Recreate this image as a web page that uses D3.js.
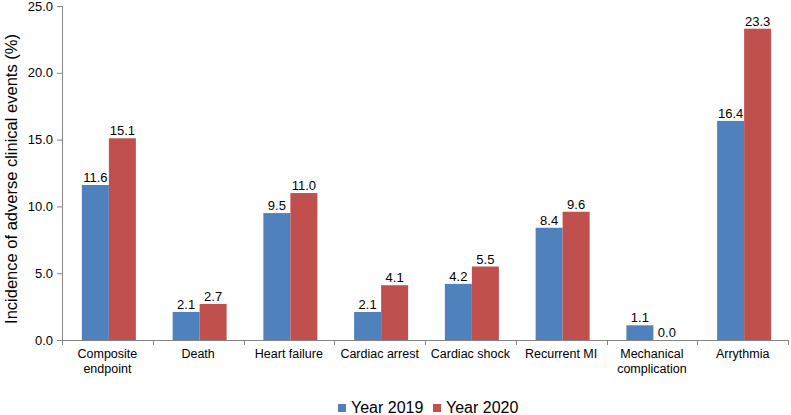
<!DOCTYPE html>
<html><head><meta charset="utf-8">
<script src="https://cdn.jsdelivr.net/npm/d3@7"></script>
<style>body{margin:0;background:#fff}svg{display:block}text{font-family:"Liberation Sans",Arial,sans-serif;fill:#000}</style>
</head><body>
<script>
const categories = [["Composite","endpoint"],["Death"],["Heart failure"],["Cardiac arrest"],["Cardiac shock"],["Recurrent MI"],["Mechanical","complication"],["Arrythmia"]];
const series = ["Year 2019","Year 2020"];
const values2019 = [11.6,2.1,9.5,2.1,4.2,8.4,1.1,16.4];
const values2020 = [15.1,2.7,11.0,4.1,5.5,9.6,0.0,23.3];
const yTicks = [0,5,10,15,20,25];
const colors = ["#4F81BD","#C0504D"];

const W=791,H=415;
const svg=d3.select("body").append("svg").attr("width",W).attr("height",H);
const L=62,R=788,T=6,B=340;
const x=d3.scaleBand().domain(d3.range(categories.length)).range([L,R]).paddingInner(0).paddingOuter(0);
const y=d3.scaleLinear().domain([0,25]).range([B,T]);
const barW = 27;
const axisColor="#868686";

// y axis
const ya=svg.append("g").attr("transform",`translate(${L},0)`)
  .call(d3.axisLeft(y).tickValues(yTicks).tickFormat(d3.format(".1f")).tickSize(5).tickPadding(4));
ya.select(".domain").attr("stroke",axisColor);
ya.selectAll(".tick line").attr("stroke",axisColor);
ya.selectAll("text").style("font-size","13px").attr("fill","#000");

// x axis
const xa=svg.append("g");
xa.append("line").attr("x1",L).attr("x2",R).attr("y1",B+0.5).attr("y2",B+0.5).attr("stroke",axisColor);
const bounds=d3.range(categories.length+1).map(i=> i<categories.length? x(i): x(categories.length-1)+x.bandwidth());
xa.selectAll(".xt").data(bounds).join("line").attr("x1",d=>Math.round(d)+0.5).attr("x2",d=>Math.round(d)+0.5)
  .attr("y1",B).attr("y2",B+5).attr("stroke",axisColor);

const sx=d3.scaleBand().domain(series).range([0,barW*2]);
const data=[values2019,values2020];
categories.forEach((c,i)=>{
  const cx=x(i)+x.bandwidth()/2+1.5;
  const g=svg.append("g").attr("transform",`translate(${cx-barW},0)`);
  series.forEach((s,j)=>{
    const v=data[j][i];
    g.append("rect").attr("x",sx(s)).attr("width",sx.bandwidth()).attr("y",y(v)).attr("height",B-y(v)).attr("fill",colors[j]);
    g.append("text").attr("x",sx(s)+sx.bandwidth()/2).attr("y",y(v)-3).attr("text-anchor","middle")
      .style("font-size","13px").text(d3.format(".1f")(v));
  });
  const t=svg.append("text").attr("text-anchor","middle").style("font-size","12.5px");
  c.forEach((line,k)=>t.append("tspan").attr("x",x(i)+x.bandwidth()/2).attr("y",358+k*15).text(line));
});

// y title
svg.append("text").attr("transform","translate(17,179) rotate(-90)").attr("text-anchor","middle")
  .style("font-size","16.5px").text("Incidence of adverse clinical events (%)");

// legend
const leg=[{x:338},{x:433}];
series.forEach((s,j)=>{
  svg.append("rect").attr("x",leg[j].x).attr("y",404).attr("width",8).attr("height",8).attr("fill",colors[j]);
  svg.append("text").attr("x",leg[j].x+13).attr("y",413).style("font-size","16px").text(s);
});
</script>
</body></html>
